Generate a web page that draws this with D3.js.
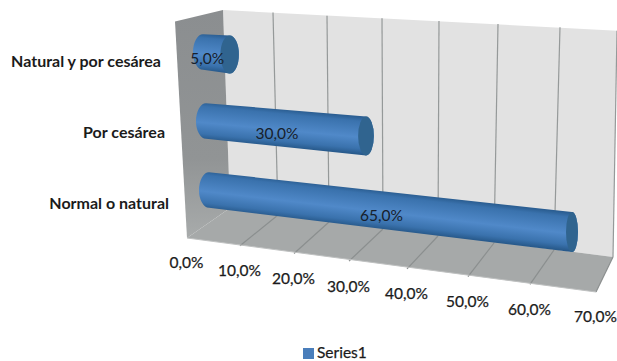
<!DOCTYPE html>
<html>
<head>
<meta charset="utf-8">
<script src="https://cdn.jsdelivr.net/npm/d3@7"></script>
<style>
  html, body { margin: 0; background: #fff; }
  svg { display: block; font-family: Lato, "Open Sans", sans-serif; }
</style>
</head>
<body>
<svg id="chart" width="617" height="361"></svg>
<script>
const categories = ['Natural y por cesárea', 'Por cesárea', 'Normal o natural'];
const values = [5, 30, 65];
const valueLabels = ['5,0%', '30,0%', '65,0%'];
const ticks = [0, 10, 20, 30, 40, 50, 60, 70];
const tickLabels = ['0,0%', '10,0%', '20,0%', '30,0%', '40,0%', '50,0%', '60,0%', '70,0%'];
const seriesName = 'Series1';

const WALL = '#e2e2e2';
const FLOOR = '#a6a9a9';
const GRID = '#959999';
const CAP = '#30648f';
const INK = '#1b1b1b';

const svg = d3.select('#chart');
const defs = svg.append('defs');

// the box is in perspective, so each edge gets its own scale over the ticks
const topX = d3.scaleLinear().domain(ticks).range([223, 273, 327, 382, 439, 498, 560, 617]);
const topY = d3.scaleLinear().domain(ticks).range([10, 12.5, 15.7, 18.3, 21, 24, 27.3, 30.7]);
const backX = d3.scaleLinear().domain(ticks).range([230, 278, 329, 383, 438, 494, 554, 613]);
const backY = d3.scaleLinear().domain([0, 70]).range([208, 257]);
const frontX = d3.scaleLinear().domain(ticks).range([187, 240, 294, 349, 407, 468, 530, 596]);
const frontY = d3.scaleLinear().domain([0, 70]).range([238, 292]);

// bar axis: start point per category, then run and drift along the value
const startX = d3.scalePoint().domain(categories).range([203, 209]);
const startY = d3.scalePoint().domain(categories).range([52, 190]);
const runX = d3.scaleLinear().domain([0, 30, 70]).range([0, 160, 392]);
const driftY = d3.scaleLinear().domain([0, 30, 65]).range([0, 15, 42]);
const capRx = d3.scaleLinear().domain([0, 65]).range([9.5, 6]);
const capRy = d3.scaleLinear().domain([0, 65]).range([19, 20]);

const sideGrad = defs.append('linearGradient').attr('id', 'side')
  .attr('x1', 0).attr('y1', 0).attr('x2', 0).attr('y2', 1);
sideGrad.append('stop').attr('offset', 0).attr('stop-color', '#8b8e90');
sideGrad.append('stop').attr('offset', 0.65).attr('stop-color', '#919495');
sideGrad.append('stop').attr('offset', 1).attr('stop-color', '#a8abab');

const poly = pts => pts.map(p => p.join(',')).join(' ');

svg.append('polygon').attr('fill', WALL)
  .attr('points', poly([[topX(0), topY(0)], [topX(70), topY(70)], [backX(70), backY(70)], [backX(0), backY(0)]]));
svg.append('polygon').attr('fill', 'url(#side)')
  .attr('points', poly([[175, 21.5], [topX(0), topY(0)], [backX(0), backY(0)], [frontX(0), frontY(0)]]));
svg.append('polygon').attr('fill', FLOOR)
  .attr('points', poly([[backX(0), backY(0)], [backX(70), backY(70)], [frontX(70), frontY(70)], [frontX(0), frontY(0)]]));

// gridlines up the back wall and across the floor
const grid = svg.append('g').attr('stroke', GRID).attr('stroke-width', 1.2).attr('fill', 'none');
grid.selectAll('.wall').data(ticks.slice(1)).join('line').attr('class', 'wall')
  .attr('x1', d => topX(d)).attr('y1', d => topY(d))
  .attr('x2', d => backX(d)).attr('y2', d => backY(d));
grid.selectAll('.floor').data(ticks.slice(1)).join('line').attr('class', 'floor')
  .attr('stroke', '#8b8f8f')
  .attr('x1', d => backX(d)).attr('y1', d => backY(d))
  .attr('x2', d => frontX(d)).attr('y2', d => frontY(d));
svg.append('line').attr('stroke', '#bfc1c1').attr('stroke-width', 1)
  .attr('x1', frontX(0)).attr('y1', frontY(0)).attr('x2', frontX(70)).attr('y2', frontY(70));

// cylinders
const bars = categories.map((c, i) => {
  const x0 = startX(c), y0 = startY(c);
  const x1 = x0 + runX(values[i]), y1 = y0 + driftY(values[i]);
  return { c, i, x0, y0, x1, y1, rx0: 10, ry0: 17.8, rx1: capRx(values[i]), ry1: capRy(values[i]) };
});

// shading runs across the cylinder, square to its axis
bars.forEach(b => {
  const mx = (b.x0 + b.x1) / 2, my = (b.y0 + b.y1) / 2, r = (b.ry0 + b.ry1) / 2;
  const len = Math.hypot(b.x1 - b.x0, b.y1 - b.y0);
  const nx = -(b.y1 - b.y0) / len, ny = (b.x1 - b.x0) / len;
  const g = defs.append('linearGradient').attr('id', `bar${b.i}`)
    .attr('gradientUnits', 'userSpaceOnUse')
    .attr('x1', mx - nx * r).attr('y1', my - ny * r)
    .attr('x2', mx + nx * r).attr('y2', my + ny * r);
  [[0, '#2b5e92'], [0.12, '#3a72ad'], [0.55, '#5089c9'], [0.85, '#3a72ad'], [1, '#285a8c']]
    .forEach(s => g.append('stop').attr('offset', s[0]).attr('stop-color', s[1]));
});

const barG = svg.append('g');
barG.selectAll('path.body').data(bars).join('path').attr('class', 'body')
  .attr('fill', d => `url(#bar${d.i})`)
  .attr('d', d => `M${d.x0},${d.y0 - d.ry0}`
    + `A${d.rx0},${d.ry0} 0 0 0 ${d.x0},${d.y0 + d.ry0}`
    + `L${d.x1},${d.y1 + d.ry1}`
    + `A${d.rx1},${d.ry1} 0 0 0 ${d.x1},${d.y1 - d.ry1}Z`);
barG.selectAll('ellipse.cap').data(bars).join('ellipse').attr('class', 'cap')
  .attr('fill', CAP)
  .attr('cx', d => d.x1).attr('cy', d => d.y1)
  .attr('rx', d => d.rx1).attr('ry', d => d.ry1);

// value labels sit just behind the middle of each bar
svg.append('g').attr('font-size', 15.5).attr('fill', '#17202b').attr('text-anchor', 'middle')
  .selectAll('text').data(bars).join('text')
  .attr('x', d => (d.x0 + d.x1) / 2 - 9)
  .attr('y', d => (d.y0 + d.y1) / 2 + 5)
  .attr('dy', '0.35em')
  .text(d => valueLabels[d.i]);

// category labels
const labelX = d3.scalePoint().domain(categories).range([161, 169]);
const labelY = d3.scalePoint().domain(categories).range([61, 203]);
svg.append('g').attr('font-size', 16).attr('font-weight', 700).attr('fill', INK).attr('text-anchor', 'end')
  .selectAll('text').data(categories).join('text')
  .attr('x', d => labelX(d)).attr('y', d => labelY(d)).attr('dy', '0.35em')
  .text(d => d);

// value axis labels follow the front edge of the floor
svg.append('g').attr('font-size', 15.5).attr('fill', INK).attr('stroke', INK).attr('stroke-width', 0.25)
  .attr('text-anchor', 'middle')
  .selectAll('text').data(ticks).join('text')
  .attr('x', d => frontX(d) - 0.5).attr('y', d => frontY(d) + 25).attr('dy', '0.35em')
  .text((d, i) => tickLabels[i]);

// legend
svg.append('rect').attr('x', 303).attr('y', 348).attr('width', 11).attr('height', 11).attr('fill', '#4a7ebb');
svg.append('text').attr('x', 317).attr('y', 353).attr('dy', '0.35em')
  .attr('font-size', 15.5).attr('fill', INK).attr('stroke', INK).attr('stroke-width', 0.25).text(seriesName);
</script>
</body>
</html>
